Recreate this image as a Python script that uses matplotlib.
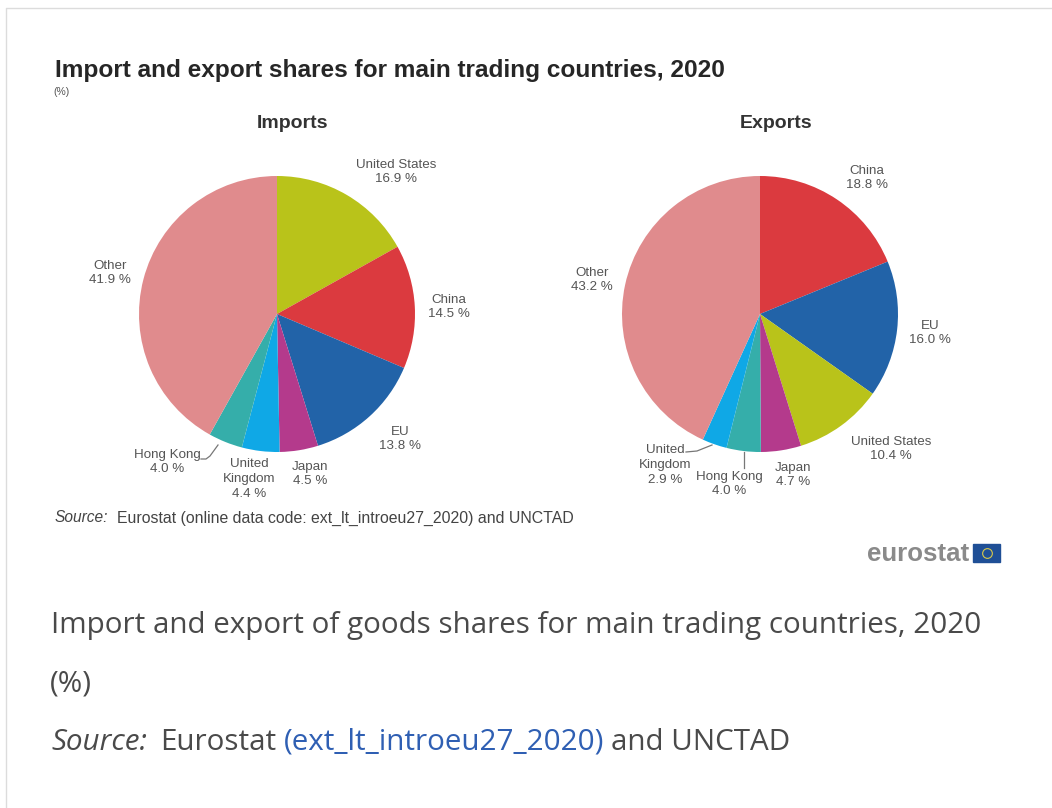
import matplotlib
matplotlib.use("Agg")
import matplotlib.pyplot as plt
from matplotlib.patches import Rectangle

W, H = 1052, 808

countries_imp = ["United States", "China", "EU", "Japan", "United Kingdom", "Hong Kong", "Other"]
shares_imp = [16.9, 14.5, 13.8, 4.5, 4.4, 4.0, 41.9]
colors_imp = ["#b9c31a", "#db3a3f", "#2263a8", "#b43a8c", "#0fa8e6", "#35aeaa", "#e08b8d"]

countries_exp = ["China", "EU", "United States", "Japan", "Hong Kong", "United Kingdom", "Other"]
shares_exp = [18.8, 16.0, 10.4, 4.7, 4.0, 2.9, 43.2]
colors_exp = ["#db3a3f", "#2263a8", "#b9c31a", "#b43a8c", "#35aeaa", "#0fa8e6", "#e08b8d"]

# label text, centre x, centre y in pixels
labels_imp = [
    ("United States\n16.9 %", 396, 172),
    ("China\n14.5 %", 449, 307),
    ("EU\n13.8 %", 400, 439),
    ("Japan\n4.5 %", 310, 474),
    ("United\nKingdom\n4.4 %", 249, 479),
    ("Hong Kong\n4.0 %", 167, 462),
    ("Other\n41.9 %", 110, 273),
]
labels_exp = [
    ("China\n18.8 %", 867, 178),
    ("EU\n16.0 %", 930, 333),
    ("United States\n10.4 %", 891, 449),
    ("Japan\n4.7 %", 793, 475),
    ("Hong Kong\n4.0 %", 729, 484),
    ("United\nKingdom\n2.9 %", 665, 465),
    ("Other\n43.2 %", 592, 280),
]

fig = plt.figure(figsize=(W / 100, H / 100), dpi=100, facecolor="white")
bg = fig.add_axes([0, 0, 1, 1])
bg.set_xlim(0, W)
bg.set_ylim(H, 0)
bg.axis("off")

# page frame
bg.plot([6, 6, W], [H, 8, 8], color="#dcdcdc", lw=1)


def draw_pie(cx, cy, r, values, colors):
    ax = fig.add_axes([(cx - r) / W, 1 - (cy + r) / H, 2 * r / W, 2 * r / H])
    ax.pie(values, colors=colors, startangle=90, counterclock=False, radius=1)
    ax.set_xlim(-1, 1)
    ax.set_ylim(-1, 1)
    for p in ax.patches:
        p.set_clip_on(False)


draw_pie(277, 314, 138, shares_imp, colors_imp)
draw_pie(760, 314, 138, shares_exp, colors_exp)

sans = "Liberation Sans"
bg.text(55, 70, "Import and export shares for main trading countries, 2020", family=sans,
        weight="bold", fontsize=17.6, color="#262626", va="center", ha="left")
bg.text(53, 92, "(%)", family=sans, fontsize=7.5, color="#555555", va="center", ha="left")
bg.text(293, 123, "Imports", family=sans, weight="bold", fontsize=14, color="#333333", va="center", ha="center")
bg.text(776, 123, "Exports", family=sans, weight="bold", fontsize=14, color="#333333", va="center", ha="center")

for txt, x, y in labels_imp + labels_exp:
    bg.text(x, y, txt, family=sans, fontsize=9.6, color="#555555", ha="center", va="center", linespacing=1.32)

# leader lines
bg.plot([201, 206, 210, 218], [459, 459, 456, 445], color="#777777", lw=0.9)
bg.plot([686, 697, 712], [452, 451, 445], color="#777777", lw=0.9)
bg.plot([744, 744], [452, 468], color="#777777", lw=0.9)

bg.text(55, 518, "Source:", family=sans, style="italic", fontsize=11.2, color="#444444", va="center")
bg.text(117, 518, "Eurostat (online data code: ext_lt_introeu27_2020) and UNCTAD", family=sans,
        fontsize=11.4, color="#444444", va="center")

# logo
bg.text(969, 554, "eurostat", family=sans, weight="bold", fontsize=18.6, color="#8a8a8a", ha="right", va="center")
bg.add_patch(Rectangle((973, 544), 27, 18, color="#1f4f96"))
bg.plot([986.5], [553], marker="o", ms=7, mfc="none", mec="#d9c94a", mew=0.8, ls="none")

# text below the chart
body = "Open Sans"
bg.text(51, 625, "Import and export of goods shares for main trading countries, 2020", family=body,
        fontsize=21.3, color="#4a4a4a", va="center")
bg.text(50, 684, "(%)", family=body, fontsize=21.3, color="#4a4a4a", va="center")
bg.text(51, 742, "Source:", family=body, style="italic", fontsize=21.3, color="#4a4a4a", va="center")
bg.text(160, 742, "Eurostat", family=body, fontsize=21.3, color="#4a4a4a", va="center")
bg.text(284, 742, "(ext_lt_introeu27_2020)", family=body, fontsize=21.3, color="#2f5fb3", va="center")
bg.text(611, 742, "and UNCTAD", family=body, fontsize=21.3, color="#4a4a4a", va="center")

fig.savefig("out.png", dpi=100)
